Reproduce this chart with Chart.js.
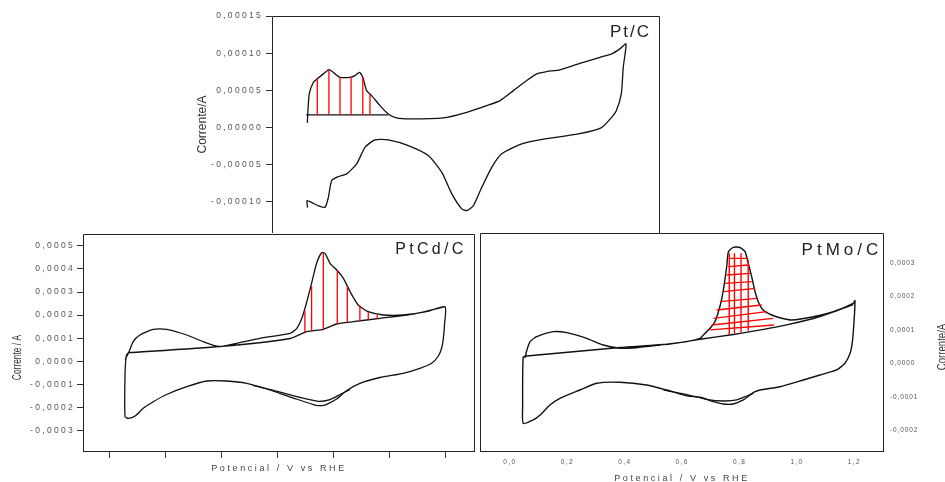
<!DOCTYPE html>
<html><head><meta charset="utf-8">
<script src="https://cdn.jsdelivr.net/npm/chart.js@4.4.1/dist/chart.umd.min.js"></script>
<style>
html,body{margin:0;padding:0;background:#fff;overflow:hidden;}
#wrap{position:relative;width:945px;height:482px;overflow:hidden;background:#fff;}
canvas{position:absolute;left:0;top:0;}
</style></head><body>
<div id="wrap">
<canvas id="cPt" width="945" height="482"></canvas>
<canvas id="cCd" width="945" height="482"></canvas>
<canvas id="cMo" width="945" height="490"></canvas>
</div>
<script>
// ---------------- Pt/C (top panel) ----------------
const ptcAnodicV = [0.051,0.058,0.073,0.087,0.109,0.130,0.151,0.169,0.205,0.223,0.239,0.251,0.265,0.283,0.313,0.343,0.373,0.421,0.541,0.626,0.698,0.746,0.794,0.842,0.878,0.914,0.962,1.046,1.106,1.148,1.178,1.200];
const ptcAnodicI = [0.63e-5,4.53e-5,6.09e-5,6.55e-5,7.22e-5,7.80e-5,7.22e-5,6.76e-5,6.76e-5,6.99e-5,7.43e-5,6.76e-5,4.97e-5,4.30e-5,2.96e-5,1.84e-5,1.30e-5,1.17e-5,1.30e-5,2.06e-5,2.96e-5,3.63e-5,4.97e-5,6.32e-5,7.22e-5,7.53e-5,7.76e-5,8.78e-5,9.45e-5,9.91e-5,10.58e-5,11.25e-5];
const ptcCathodicV = [1.190,1.183,1.165,1.148,1.112,1.028,0.908,0.824,0.752,0.716,0.680,0.650,0.626,0.608,0.572,0.536,0.487,0.415,0.343,0.295,0.259,0.229,0.193,0.163,0.139,0.127,0.115,0.090,0.068,0.050,0.052];
const ptcCathodicI = [8.10e-5,4.53e-5,2.28e-5,1.38e-5,0.00e-5,-0.85e-5,-1.52e-5,-2.19e-5,-3.53e-5,-5.34e-5,-8.02e-5,-10.48e-5,-11.16e-5,-10.93e-5,-8.91e-5,-6.01e-5,-3.76e-5,-2.42e-5,-1.65e-5,-1.65e-5,-2.65e-5,-4.88e-5,-6.22e-5,-6.59e-5,-7.12e-5,-9.37e-5,-10.71e-5,-10.48e-5,-10.08e-5,-9.81e-5,-10.75e-5];
const ptcBaseV = [0.047, 0.343];
const ptcBaseI = [1.71e-5, 1.71e-5];
const ptcHatchV = [0.087,0.129,0.169,0.209,0.251,0.277];
const ptcHatchBottom = [1.71e-5,1.71e-5,1.71e-5,1.71e-5,1.71e-5,1.71e-5];
const ptcHatchTop = [6.55e-5,7.80e-5,6.80e-5,6.85e-5,6.76e-5,4.60e-5];
const ptcYTicks = [0.00015,0.00010,0.00005,0,-0.00005,-0.00010];
const ptcYLabels = ['0,00015','0,00010','0,00005','0,00000','-0,00005','-0,00010'];

// ---------------- PtCd/C (bottom left) ----------------
const cdAnodic1V = [0.055,0.057,0.066,0.083,0.107,0.155,0.203,0.275,0.334,0.394,0.454,0.537,0.645,0.669,0.687,0.705,0.722,0.740,0.758,0.770,0.788,0.812,0.836,0.860,0.889,0.925,0.979,1.050,1.134,1.200];
const cdAnodic1I = [0.05e-4,0.15e-4,0.346e-4,0.848e-4,1.139e-4,1.385e-4,1.385e-4,1.139e-4,0.848e-4,0.632e-4,0.779e-4,0.996e-4,1.212e-4,1.429e-4,1.861e-4,2.580e-4,3.377e-4,4.242e-4,4.701e-4,4.675e-4,4.242e-4,3.952e-4,3.593e-4,3.013e-4,2.437e-4,2.147e-4,2.004e-4,2.004e-4,2.147e-4,2.364e-4];
const cdCathodic1V = [1.198,1.194,1.188,1.176,1.152,1.110,1.050,0.967,0.895,0.848,0.813,0.778,0.758,0.728,0.657,0.561,0.490,0.418,0.346,0.275,0.203,0.155,0.119,0.090,0.066,0.054,0.054,0.059,0.066];
const cdCathodic1I = [1.571e-4,0.996e-4,0.576e-4,0.229e-4,-0.087e-4,-0.303e-4,-0.519e-4,-0.701e-4,-0.952e-4,-1.264e-4,-1.62e-4,-1.85e-4,-1.922e-4,-1.870e-4,-1.589e-4,-1.199e-4,-0.952e-4,-0.853e-4,-0.853e-4,-1.100e-4,-1.437e-4,-1.749e-4,-2.035e-4,-2.368e-4,-2.468e-4,-2.398e-4,-0.519e-4,0.273e-4,0.372e-4];
const cdAnodic2V = [0.066,0.394,0.645,0.705,0.764,0.812,0.871,0.967,1.086,1.200];
const cdAnodic2I = [0.372e-4,0.641e-4,0.987e-4,1.281e-4,1.385e-4,1.615e-4,1.714e-4,1.861e-4,2.048e-4,2.364e-4];
const cdCathodic2V = [0.512,0.609,0.681,0.745,0.788,0.824,0.860];
const cdCathodic2I = [-1.039e-4,-1.329e-4,-1.567e-4,-1.732e-4,-1.654e-4,-1.437e-4,-1.221e-4];
const cdHatchV = [0.698,0.722,0.764,0.814,0.850,0.895,0.925,0.957];
const cdHatchBottom = [1.26e-4,1.31e-4,1.39e-4,1.62e-4,1.68e-4,1.75e-4,1.80e-4,1.84e-4];
const cdHatchTop = [2.19e-4,3.25e-4,4.70e-4,3.95e-4,3.25e-4,2.42e-4,2.15e-4,2.02e-4];
const cdXTicks = [0,0.2,0.4,0.6,0.8,1.0,1.2];
const cdYTicks = [0.0005,0.0004,0.0003,0.0002,0.0001,0,-0.0001,-0.0002,-0.0003];
const cdYLabels = ['0,0005','0,0004','0,0003','0,0002','0,0001','0,0000','-0,0001','-0,0002','-0,0003'];

// ---------------- PtMo/C (bottom right) ----------------
const moAnodic1V = [0.052,0.059,0.070,0.093,0.151,0.198,0.267,0.325,0.383,0.441,0.523,0.616,0.662,0.674,0.697,0.714,0.728,0.738,0.747,0.755,0.761,0.778,0.801,0.819,0.830,0.842,0.854,0.865,0.882,0.912,0.947,0.982,1.057,1.126,1.196,1.202];
const moAnodic1I = [0.158e-4,0.398e-4,0.646e-4,0.795e-4,0.945e-4,0.915e-4,0.747e-4,0.547e-4,0.448e-4,0.466e-4,0.547e-4,0.646e-4,0.747e-4,0.846e-4,1.046e-4,1.244e-4,1.593e-4,1.943e-4,2.392e-4,2.888e-4,3.336e-4,3.468e-4,3.462e-4,3.336e-4,2.990e-4,2.589e-4,2.140e-4,1.842e-4,1.593e-4,1.444e-4,1.345e-4,1.294e-4,1.393e-4,1.543e-4,1.794e-4,1.877e-4];
const moCathodic1V = [1.199,1.193,1.185,1.167,1.138,1.080,1.022,0.941,0.871,0.848,0.836,0.813,0.778,0.743,0.708,0.662,0.616,0.546,0.476,0.383,0.302,0.244,0.174,0.139,0.105,0.081,0.046,0.044,0.046,0.058];
const moCathodic1I = [1.294e-4,0.646e-4,0.299e-4,0.0,-0.200e-4,-0.350e-4,-0.499e-4,-0.700e-4,-0.798e-4,-0.870e-4,-0.948e-4,-1.097e-4,-1.217e-4,-1.217e-4,-1.148e-4,-1.017e-4,-0.975e-4,-0.800e-4,-0.649e-4,-0.568e-4,-0.598e-4,-0.798e-4,-1.046e-4,-1.247e-4,-1.545e-4,-1.695e-4,-1.794e-4,-1.297e-4,0.197e-4,0.218e-4];
const moAnodic2V = [0.058,0.383,0.557,0.662,0.778,0.848,0.964,1.080,1.196];
const moAnodic2I = [0.218e-4,0.472e-4,0.577e-4,0.72e-4,0.86e-4,0.96e-4,1.15e-4,1.40e-4,1.758e-4];
const moCathodic2V = [0.534,0.616,0.685,0.743,0.790,0.825,0.848];
const moCathodic2I = [-0.798e-4,-0.935e-4,-1.076e-4,-1.127e-4,-1.097e-4,-0.978e-4,-0.897e-4];
const moHatchVertV = [0.764,0.782,0.805,0.830];
const moHatchVertBottom = [0.85e-4,0.90e-4,0.93e-4,0.97e-4];
const moHatchVertTop = [3.29e-4,3.29e-4,3.29e-4,3.09e-4];
const moHatchHorLeftV = [0.767,0.761,0.755,0.749,0.743,0.732,0.720,0.709,0.703,0.697];
const moHatchHorLeftI = [3.139e-4,2.888e-4,2.640e-4,2.392e-4,2.140e-4,1.842e-4,1.593e-4,1.345e-4,1.145e-4,0.996e-4];
const moHatchHorRightV = [0.825,0.830,0.836,0.842,0.854,0.860,0.877,0.895,0.917,0.920];
const moHatchHorRightI = [3.139e-4,2.939e-4,2.691e-4,2.439e-4,2.242e-4,1.943e-4,1.743e-4,1.543e-4,1.345e-4,1.145e-4];
const moXTicks = [0,0.2,0.4,0.6,0.8,1.0,1.2];
const moXLabels = ['0,0','0,2','0,4','0,6','0,8','1,0','1,2'];
const moYTicks = [0.0003,0.0002,0.0001,0,-0.0001,-0.0002];
const moYLabels = ['0,0003','0,0002','0,0001','0,0000','-0,0001','-0,0002'];

// ---------------- helpers ----------------
const FONT = "'Liberation Sans', Arial, Helvetica, sans-serif";
const INK = '#111';
const RED = '#ff0000';
const TICKC = '#555';

function curve(xs, ys, color, width, tension) {
  return { data: xs.map((x, i) => ({ x, y: ys[i] })), showLine: true, borderColor: color,
    borderWidth: width, pointRadius: 0, pointHoverRadius: 0, tension: tension, fill: false };
}
function segs(x1, y1, x2, y2, color, width) {
  const data = [];
  x1.forEach((x, i) => { data.push({ x, y: y1[i] }, { x: x2[i], y: y2[i] }, { x: x2[i], y: null }); });
  return { data, showLine: true, borderColor: color, borderWidth: width, pointRadius: 0,
    pointHoverRadius: 0, tension: 0, spanGaps: false, fill: false };
}
function spacingPlugin(map) {
  return { id: 'spacing', beforeDraw(chart) {
    for (const id in chart.scales) {
      const s = chart.scales[id], conf = map[id];
      if (!conf || s._lsPatched) continue;
      s._lsPatched = true;
      const dl = s.drawLabels, dt = s.drawTitle;
      s.drawLabels = function (a) { const c = this.ctx; const o = c.letterSpacing; c.letterSpacing = conf.labels || '0px'; dl.call(this, a); c.letterSpacing = o; };
      s.drawTitle = function (a) { const c = this.ctx; const o = c.letterSpacing; c.letterSpacing = conf.title || '0px'; dt.call(this, a); c.letterSpacing = o; };
    }
  } };
}
function framePlugin(sides) {
  return { id: 'frame', afterDraw(chart) {
    const a = chart.chartArea, c = chart.ctx;
    const l = Math.round(a.left) + 0.5, r = Math.round(a.right) - 0.5, t = Math.round(a.top) + 0.5, b = Math.round(a.bottom) - 0.5;
    c.save(); c.strokeStyle = '#222'; c.lineWidth = 1; c.beginPath();
    if (sides.includes('l')) { c.moveTo(l, t); c.lineTo(l, b + 0.5); }
    if (sides.includes('t')) { c.moveTo(l, t); c.lineTo(r, t); }
    if (sides.includes('r')) { c.moveTo(r, t); c.lineTo(r, b + 0.5); }
    if (sides.includes('b')) { c.moveTo(l, b); c.lineTo(r, b); }
    c.stroke(); c.restore();
  } };
}
function textPlugin(items) {
  return { id: 'texts', afterDraw(chart) {
    const a = chart.chartArea, c = chart.ctx;
    items.forEach(t => {
      c.save();
      c.font = t.font; c.fillStyle = t.color; c.letterSpacing = t.spacing || '0px';
      c.textAlign = t.align || 'left'; c.textBaseline = t.baseline || 'alphabetic';
      const x = (t.ax === 'right' ? a.right : a.left) + t.dx;
      const y = (t.ay === 'middle' ? (a.top + a.bottom) / 2 : a.top) + t.dy;
      c.translate(x, y); if (t.rot) c.rotate(t.rot); if (t.sx) c.scale(t.sx, 1);
      c.fillText(t.text, 0, 0); c.restore();
    });
  } };
}
function fixedTicks(vals) { return s => { s.ticks = vals.map(v => ({ value: v })); }; }
const base = { responsive: false, maintainAspectRatio: false, animation: false, events: [],
  plugins: { legend: { display: false }, tooltip: { enabled: false } } };

// ---------------- Pt/C chart ----------------
new Chart(document.getElementById('cPt'), {
  type: 'scatter',
  data: { datasets: [
    segs(ptcHatchV, ptcHatchBottom, ptcHatchV, ptcHatchTop, RED, 1.3),
    curve(ptcBaseV, ptcBaseI, INK, 1.2, 0),
    curve(ptcAnodicV.concat(ptcCathodicV), ptcAnodicI.concat(ptcCathodicI), INK, 1.3, 0.2)
  ] },
  options: Object.assign({}, base, {
    layout: { padding: { left: 195, right: 285, top: 16, bottom: 249 } },
    scales: {
      x: { type: 'linear', min: -0.0762, max: 1.3225, display: false },
      y: { type: 'linear', position: 'left', min: -0.00014167, max: 0.00015,
        afterBuildTicks: fixedTicks(ptcYTicks), afterFit: s => { s.width = 77; },
        border: { display: false },
        grid: { drawOnChartArea: false, drawTicks: true, tickLength: 6, tickColor: '#333', color: '#333' },
        ticks: { padding: 3, color: TICKC, font: { family: FONT, size: 8.5 }, callback: (v, i) => ptcYLabels[i] },
        title: { display: true, text: 'Corrente/A', color: '#333', padding: 0, font: { family: FONT, size: 12 } } }
    }
  }),
  plugins: [spacingPlugin({ y: { labels: '2.3px', title: '0px' } }), framePlugin('ltr'),
    textPlugin([{ text: 'Pt/C', font: '17px ' + FONT, color: '#222', spacing: '2px', align: 'right', ax: 'right', dx: -9, ay: 'top', dy: 21 }])]
});

// ---------------- PtCd/C chart ----------------
new Chart(document.getElementById('cCd'), {
  type: 'scatter',
  data: { datasets: [
    segs(cdHatchV, cdHatchBottom, cdHatchV, cdHatchTop, RED, 1.3),
    curve(cdAnodic1V.concat(cdCathodic1V, cdAnodic2V), cdAnodic1I.concat(cdCathodic1I, cdAnodic2I), INK, 1.3, 0.2),
    curve(cdCathodic2V, cdCathodic2I, INK, 1.3, 0.2)
  ] },
  options: Object.assign({}, base, {
    layout: { padding: { left: 10, right: 470, top: 234, bottom: 8 } },
    scales: {
      x: { type: 'linear', min: -0.0967, max: 1.3073, afterBuildTicks: fixedTicks(cdXTicks), afterFit: s => { s.height = 22; },
        border: { display: false },
        grid: { drawOnChartArea: false, drawTicks: true, tickLength: 6, tickColor: '#333', color: '#333' },
        ticks: { display: false },
        title: { display: true, text: 'Potencial / V vs RHE', color: '#444', padding: 0, font: { family: FONT, size: 9 } } },
      y: { type: 'linear', position: 'left', min: -0.0003926, max: 0.0005511,
        afterBuildTicks: fixedTicks(cdYTicks), afterFit: s => { s.width = 73; },
        border: { display: false },
        grid: { drawOnChartArea: false, drawTicks: true, tickLength: 6, tickColor: '#333', color: '#333' },
        ticks: { padding: 2, color: TICKC, font: { family: FONT, size: 8.5 }, callback: (v, i) => cdYLabels[i] },
        title: { display: false } }
    }
  }),
  plugins: [spacingPlugin({ x: { labels: '0px', title: '2.6px' }, y: { labels: '2.3px', title: '0px' } }), framePlugin('ltrb'),
    textPlugin([
      { text: 'PtCd/C', font: '16px ' + FONT, color: '#222', spacing: '3.3px', align: 'right', ax: 'right', dx: -8.4, ay: 'top', dy: 19.5 },
      { text: 'Corrente / A', font: '12px ' + FONT, color: '#333', align: 'center', baseline: 'middle', ax: 'left', dx: -65.5, ay: 'middle', dy: 14.5, rot: -Math.PI / 2, sx: 0.7 }
    ])]
});

// ---------------- PtMo/C chart ----------------
new Chart(document.getElementById('cMo'), {
  type: 'scatter',
  data: { datasets: [
    segs(moHatchVertV, moHatchVertBottom, moHatchVertV, moHatchVertTop, RED, 1.4),
    segs(moHatchHorLeftV, moHatchHorLeftI, moHatchHorRightV, moHatchHorRightI, RED, 1.3),
    curve(moAnodic1V.concat(moCathodic1V, moAnodic2V), moAnodic1I.concat(moCathodic1I, moAnodic2I), INK, 1.4, 0.2),
    curve(moCathodic2V, moCathodic2I, INK, 1.3, 0.2)
  ] },
  options: Object.assign({}, base, {
    layout: { padding: { left: 480, right: 16, top: 233, bottom: 6 } },
    scales: {
      x: { type: 'linear', min: -0.1045, max: 1.3031, afterBuildTicks: fixedTicks(moXTicks), afterFit: s => { s.height = 32; },
        border: { display: false },
        grid: { drawOnChartArea: false, drawTicks: false },
        ticks: { padding: 6, color: TICKC, font: { family: FONT, size: 6.5 }, maxRotation: 0, callback: (v, i) => moXLabels[i] },
        title: { display: true, text: 'Potencial / V vs RHE', color: '#444', padding: 0, font: { family: FONT, size: 9 } } },
      y: { type: 'linear', position: 'right', min: -0.0002652, max: 0.0003895,
        afterBuildTicks: fixedTicks(moYTicks), afterFit: s => { s.width = 45; },
        border: { display: false },
        grid: { drawOnChartArea: false, drawTicks: false },
        ticks: { padding: 6, color: TICKC, font: { family: FONT, size: 6.5 }, callback: (v, i) => moYLabels[i] } }
    }
  }),
  plugins: [spacingPlugin({ x: { labels: '1.4px', title: '2.6px' }, y: { labels: '0.9px' } }), framePlugin('ltrb'),
    textPlugin([
      { text: 'PtMo/C', font: '17px ' + FONT, color: '#222', spacing: '4px', align: 'right', ax: 'right', dx: -1.7, ay: 'top', dy: 22 },
      { text: 'Corrente/A', font: '12px ' + FONT, color: '#333', align: 'center', baseline: 'middle', ax: 'right', dx: 59, ay: 'middle', dy: 4.5, rot: -Math.PI / 2, sx: 0.8 }
    ])]
});
</script>
</body></html>
